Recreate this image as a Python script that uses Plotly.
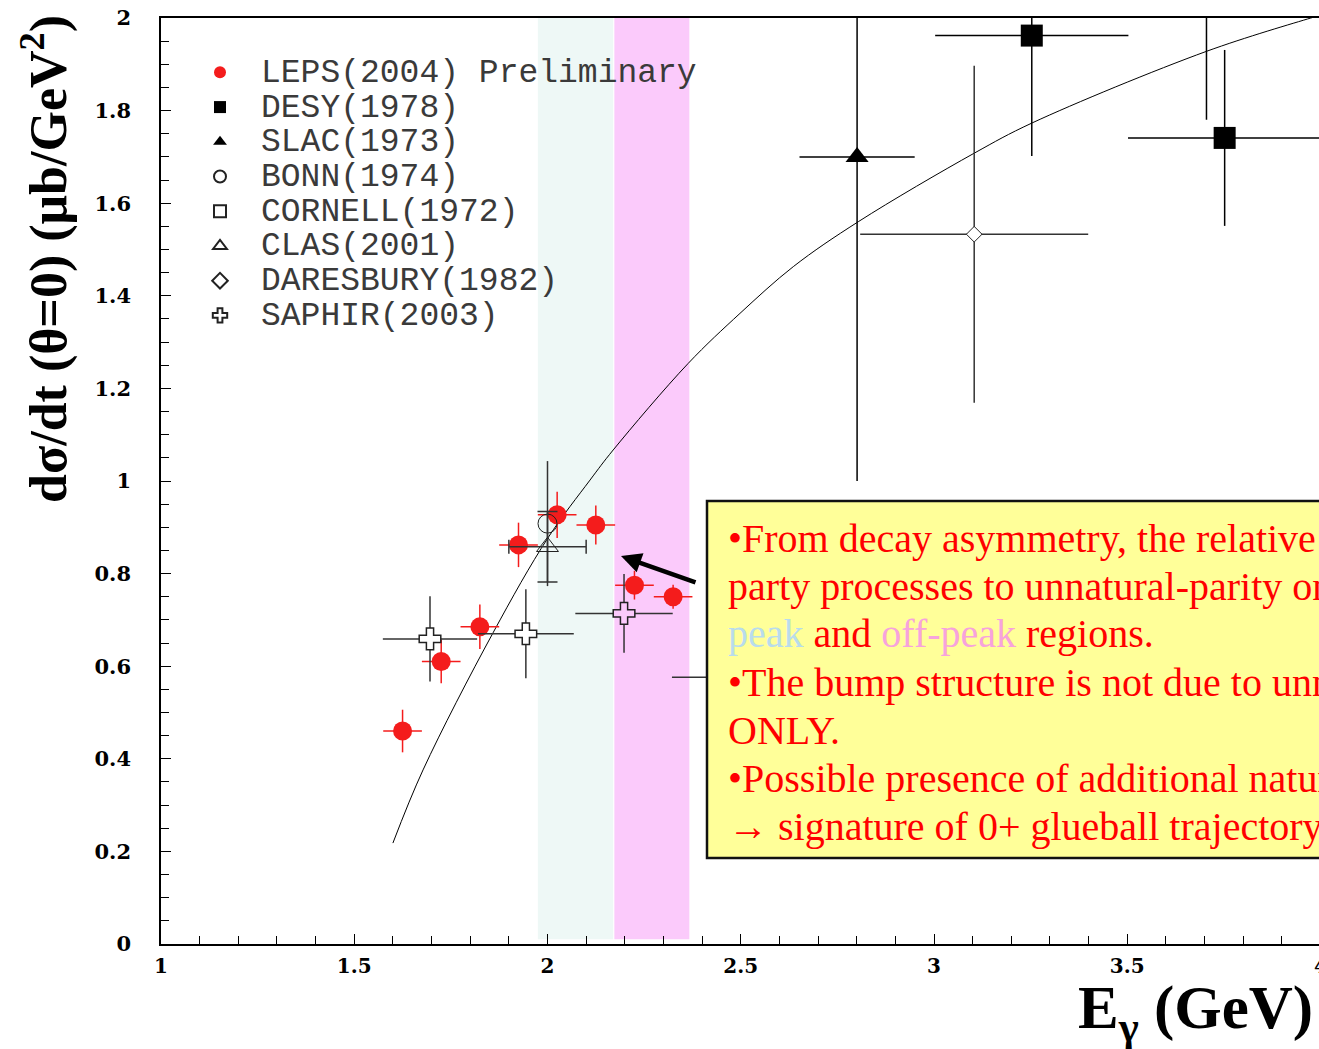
import plotly.graph_objects as go

# ---- measurements: photon energy (GeV), dσ/dt at θ=0 (μb/GeV²) ----
leps_e = [1.625, 1.725, 1.825, 1.925, 2.025, 2.125, 2.225, 2.325]
leps_y = [0.46, 0.61, 0.685, 0.862, 0.927, 0.905, 0.775, 0.75]
leps_de = [0.05, 0.05, 0.05, 0.05, 0.05, 0.05, 0.05, 0.05]
leps_dy = [0.046, 0.047, 0.048, 0.048, 0.05, 0.042, 0.031, 0.026]

desy_e = [3.253, 3.752]
desy_y = [1.962, 1.741]
desy_de = [0.25, 0.25]
desy_dy = [0.26, 0.19]

slac_e = [2.801]
slac_y = [1.70]
slac_de = [0.149]
slac_dy = [0.70]

bonn_e = [2.0]
bonn_y = [0.908]
bonn_dy = [0.135]

cornell_e = [3.705]
cornell_y = [2.10]
cornell_de = [0.24]
cornell_dy = [0.32]

clas_e = [2.0]
clas_y = [0.858]
clas_de = [0.10]
clas_dy = [0.076]

dares_e = [3.104]
dares_y = [1.533]
dares_de = [0.295]
dares_dy = [0.364]

saphir_e = [1.696, 1.944, 2.198, 2.447]
saphir_y = [0.659, 0.670, 0.714, 0.576]
saphir_de = [0.122, 0.124, 0.126, 0.125]
saphir_dy = [0.092, 0.096, 0.085, 0.09]

# model curve
model_e = [1.600, 1.678, 1.859, 2.001, 2.110, 2.170, 2.364, 2.498, 2.636,
           2.804, 3.104, 3.253, 3.705, 3.975, 4.0]
model_y = [0.218, 0.376, 0.672, 0.877, 1.002, 1.067, 1.254, 1.362, 1.463,
           1.560, 1.708, 1.773, 1.928, 2.000, 2.006]

# peak / off-peak energy windows
peak_band = [1.975, 2.170]
offpeak_band = [2.173, 2.367]

x_ticks = [1, 1.5, 2, 2.5, 3, 3.5]
y_ticks = [0, 0.2, 0.4, 0.6, 0.8, 1, 1.2, 1.4, 1.6, 1.8, 2]

W, H = 1319, 1049
ML, MR, MT, MB = 161, 0, 18, 105
PW, PH = W - ML - MR, H - MT - MB
X_RANGE = [1, 1 + PW / 386.5]


def px_x(px):
    return (px - ML) / PW


def px_y(py):
    return (H - MB - py) / PH


def lname(s):
    return '<span style="font-size:33px">' + s + '</span>'


INK = "#222222"
fig = go.Figure()

fig.add_trace(go.Scatter(x=model_e, y=model_y, mode="lines",
                         line=dict(color="black", width=1, shape="spline"),
                         showlegend=False, hoverinfo="skip"))

fig.add_trace(go.Scatter(
    x=leps_e, y=leps_y, mode="markers", name=lname("LEPS(2004) Preliminary"),
    marker=dict(symbol="circle", size=19, color="#f41c1c", line=dict(width=0)),
    error_x=dict(type="data", array=leps_de, color="#f41c1c", thickness=1.5, width=0),
    error_y=dict(type="data", array=leps_dy, color="#f41c1c", thickness=1.5, width=0)))

fig.add_trace(go.Scatter(
    x=desy_e, y=desy_y, mode="markers", name=lname("DESY(1978)"),
    marker=dict(symbol="square", size=22, color="black"),
    error_x=dict(type="data", array=desy_de, color="black", thickness=1.5, width=0),
    error_y=dict(type="data", array=desy_dy, color="black", thickness=1.5, width=0)))

fig.add_trace(go.Scatter(
    x=slac_e, y=slac_y, mode="markers", name=lname("SLAC(1973)"),
    marker=dict(symbol="triangle-up", size=20, color="black"),
    error_x=dict(type="data", array=slac_de, color="black", thickness=1.5, width=0),
    error_y=dict(type="data", array=slac_dy, color="black", thickness=1.5, width=0)))

fig.add_trace(go.Scatter(
    x=bonn_e, y=bonn_y, mode="markers", name=lname("BONN(1974)"),
    marker=dict(symbol="circle-open", size=19, color=INK, line=dict(width=1)),
    error_y=dict(type="data", array=bonn_dy, color="#333333", thickness=1.5, width=0)))

fig.add_trace(go.Scatter(
    x=cornell_e, y=cornell_y, mode="markers", name=lname("CORNELL(1972)"),
    marker=dict(symbol="square-open", size=18, color=INK, line=dict(width=1)),
    error_x=dict(type="data", array=cornell_de, color="black", thickness=1.5, width=0),
    error_y=dict(type="data", array=cornell_dy, color="black", thickness=1.5, width=0)))

fig.add_trace(go.Scatter(
    x=clas_e, y=clas_y, mode="markers", name=lname("CLAS(2001)"),
    marker=dict(symbol="triangle-up-open", size=19, color=INK, line=dict(width=1)),
    error_x=dict(type="data", array=clas_de, color="#333333", thickness=1.5, width=7),
    error_y=dict(type="data", array=clas_dy, color="#333333", thickness=1.5, width=10)))

fig.add_trace(go.Scatter(
    x=dares_e, y=dares_y, mode="markers", name=lname("DARESBURY(1982)"),
    marker=dict(symbol="diamond", size=12, color="white", line=dict(width=1, color=INK)),
    error_x=dict(type="data", array=dares_de, color="#333333", thickness=1.5, width=0),
    error_y=dict(type="data", array=dares_dy, color="#333333", thickness=1.5, width=0)))

fig.add_trace(go.Scatter(
    x=saphir_e, y=saphir_y, mode="markers", name=lname("SAPHIR(2003)"),
    marker=dict(symbol="cross", size=18,
                color=["white", "white", "#fbcafb", "white"],
                line=dict(width=1.5, color=INK)),
    error_x=dict(type="data", array=saphir_de, color="#333333", thickness=1.5, width=0),
    error_y=dict(type="data", array=saphir_dy, color="#333333", thickness=1.5, width=0)))

shapes = [
    dict(type="rect", xref="x", yref="y", x0=peak_band[0], x1=peak_band[1],
         y0=0.01, y1=2, fillcolor="#eef8f6", line=dict(width=0), layer="below"),
    dict(type="rect", xref="x", yref="y", x0=offpeak_band[0], x1=offpeak_band[1],
         y0=0.01, y1=2, fillcolor="#fbcafb", line=dict(width=0), layer="below"),
    # note box
    dict(type="rect", xref="paper", yref="paper", x0=px_x(707), x1=px_x(1340),
         y0=px_y(858), y1=px_y(501), fillcolor="#ffff99",
         line=dict(color="#111111", width=2.5), layer="above"),
]

RED = "#ff0000"
note_lines = [
    "•From decay asymmetry, the relative contribution of natural-",
    "party processes to unnatural-parity ones is similar in",
    '<span style="color:#b9dcec">peak</span> and '
    '<span style="color:#f7a3dc">off-peak</span> regions.',
    "•The bump structure is not due to unnatural-parity exchange",
    "ONLY.",
    "•Possible presence of additional natural-parity exchange",
    "→ signature of 0+ glueball trajectory?",
]
annotations = []
for i, t in enumerate(note_lines):
    annotations.append(dict(
        text=t, xref="paper", yref="paper", x=px_x(726), y=px_y(538 + 48 * i),
        xanchor="left", yanchor="middle", showarrow=False,
        font=dict(family="Liberation Serif", size=40, color=RED)))

# arrow pointing at the bump
annotations.append(dict(
    text="", xref="x", yref="y", axref="x", ayref="y",
    x=1 + (621 - ML) / 386.5, y=(H - MB - 556) / 463,
    ax=1 + (697 - ML) / 386.5, ay=(H - MB - 583) / 463,
    showarrow=True, arrowhead=2, arrowsize=0.9, arrowwidth=4.5, arrowcolor="black"))

# axis titles
annotations.append(dict(
    text="<b>dσ/dt (θ=0) (μb/GeV<sup>2</sup>)</b>", xref="paper", yref="paper",
    x=px_x(45), y=px_y(259), xanchor="center", yanchor="middle", textangle=-90,
    showarrow=False, font=dict(family="Liberation Serif", size=52, color="black")))
annotations.append(dict(
    text="<b>E<sub>γ</sub> (GeV)</b>", xref="paper", yref="paper",
    x=px_x(1076), y=px_y(1012), xanchor="left", yanchor="middle",
    showarrow=False, font=dict(family="Liberation Serif", size=61, color="black")))
# last x tick label sits on the page edge
annotations.append(dict(
    text="<b>4</b>", xref="paper", yref="paper", x=px_x(1321), y=px_y(966),
    xanchor="center", yanchor="middle", showarrow=False,
    font=dict(family="DejaVu Serif", size=20, color="black")))

fig.update_layout(
    width=W, height=H, margin=dict(l=ML, r=MR, t=MT, b=MB),
    paper_bgcolor="white", plot_bgcolor="rgba(0,0,0,0)",
    shapes=shapes, annotations=annotations,
    showlegend=True,
    legend=dict(x=px_x(179), y=px_y(50), xanchor="left", yanchor="top",
                bgcolor="rgba(0,0,0,0)", borderwidth=0, itemwidth=72,
                itemsizing="constant",
                font=dict(family="Liberation Mono", size=24.4, color="#3a3a3a")),
    xaxis=dict(range=X_RANGE, tickvals=x_ticks, ticks="inside", ticklen=10,
               tickwidth=1, tickcolor="black", showgrid=False, zeroline=False,
               showline=True, linecolor="black", linewidth=1.5, mirror=True,
               ticklabelstandoff=3,
               tickfont=dict(family="DejaVu Serif", size=20, color="black",
                             weight="bold"),
               minor=dict(dtick=0.1, ticks="inside", ticklen=8, tickcolor="black",
                          tickwidth=1, showgrid=False)),
    yaxis=dict(range=[0, 2], tickvals=y_ticks, ticks="inside", ticklen=10,
               tickwidth=1, tickcolor="black", showgrid=False, zeroline=False,
               showline=True, linecolor="black", linewidth=1.5,
               ticklabelstandoff=24,
               tickfont=dict(family="DejaVu Serif", size=21, color="black",
                             weight="bold"),
               minor=dict(dtick=0.05, ticks="inside", ticklen=8, tickcolor="black",
                          tickwidth=1, showgrid=False)),
)

fig.write_html("out.html")
